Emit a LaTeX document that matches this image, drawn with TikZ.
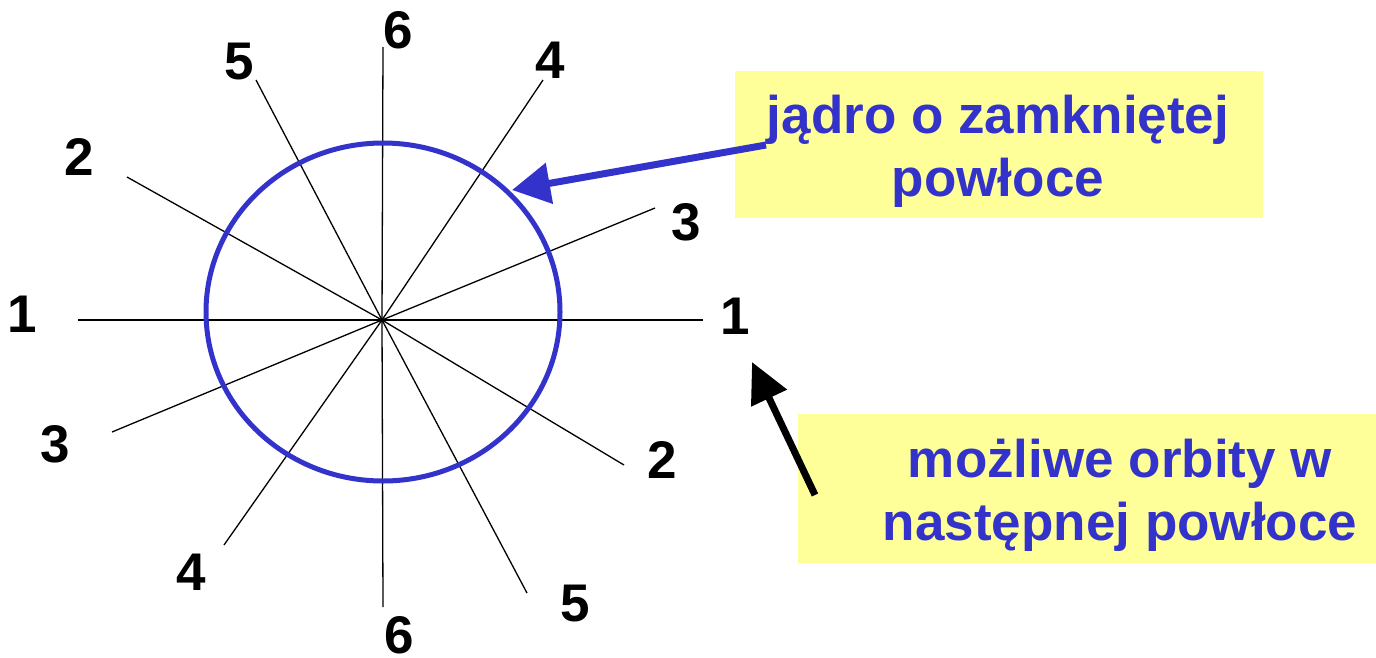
\documentclass[tikz,border=0pt]{standalone}
\usepackage{fontspec}
\setmainfont{Liberation Sans}
\usetikzlibrary{arrows.meta}
\definecolor{myblue}{RGB}{51,51,204}
\definecolor{myyellow}{RGB}{255,255,153}
\begin{document}
\begin{tikzpicture}[x=1pt,y=-1pt,
  spoke/.style={line width=1.3pt,black},
  num/.style={inner sep=0pt,font=\fontsize{53}{60}\selectfont\bfseries},
  txt/.style={inner sep=0pt,anchor=base,text=myblue,font=\fontsize{53}{64}\selectfont\bfseries},
  note/.style={fill=myyellow,draw=none,inner sep=0pt,anchor=north west}]
\useasboundingbox (0,0) rectangle (1376,657);
% boxes
\node[note,minimum width=528pt,minimum height=147pt] (b1) at (735,71) {};
\node[note,minimum width=579pt,minimum height=149pt] (b2) at (798,414) {};
% spokes
\coordinate (c) at (382,320);
\coordinate (e1a) at (78,320);  \coordinate (e1b) at (703,320);
\coordinate (e6a) at (383,47);  \coordinate (e6b) at (383,607);
\coordinate (e2a) at (127,177); \coordinate (e2b) at (624,465);
\coordinate (e3a) at (112,432); \coordinate (e3b) at (655,208);
\coordinate (e4a) at (224,545); \coordinate (e4b) at (543,80);
\coordinate (e5a) at (256,80);  \coordinate (e5b) at (527,593);
\foreach \e in {e1a,e1b,e2a,e2b,e3a,e3b,e4a,e4b,e5a,e5b,e6a,e6b}
  \draw[spoke] (c) -- (\e);
% shell
\draw[myblue,line width=5pt] (383,312) ellipse [x radius=177pt, y radius=169pt];
% labels
\node[num] (l1a) at (22,314) {1};  \node[num] (l1b) at (735,316) {1};
\node[num] (l6a) at (398,30) {6};  \node[num] (l6b) at (399,635) {6};
\node[num] (l5a) at (239,62) {5};  \node[num] (l5b) at (575,604) {5};
\node[num] (l4a) at (550,60) {4};  \node[num] (l4b) at (191,572) {4};
\node[num] (l2a) at (79,157) {2};  \node[num] (l2b) at (662,460) {2};
\node[num] (l3a) at (686,222) {3}; \node[num] (l3b) at (55,444) {3};
% texts
\node[txt] (t1) at (998,133) {jądro o zamkniętej};
\node[txt] (t2) at (998,196) {powłoce};
\node[txt] (t3) at (1120,477) {możliwe orbity w};
\node[txt] (t4) at (1120,540) {następnej powłoce};
% arrows
\coordinate (a1s) at (766,145); \coordinate (a1e) at (512,190);
\coordinate (a2s) at (815,495); \coordinate (a2e) at (752,362);
\draw[myblue,line width=7pt,-{Triangle[length=38pt,width=40pt]}] (a1s) -- (a1e);
\draw[black,line width=7pt,-{Triangle[length=40pt,width=38pt]}] (a2s) -- (a2e);
\end{tikzpicture}
\end{document}
